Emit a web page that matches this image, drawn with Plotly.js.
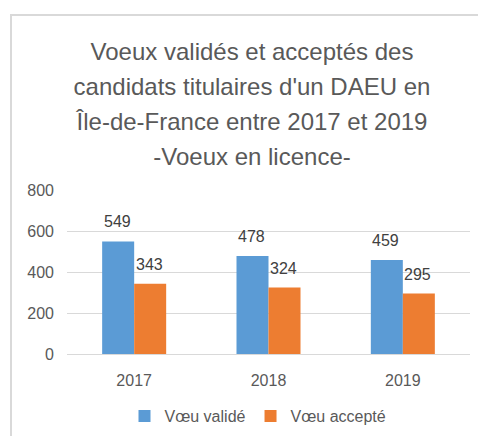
<!DOCTYPE html>
<html>
<head>
<meta charset="utf-8">
<script src="https://cdn.plot.ly/plotly-3.0.1.min.js"></script>
<style>
html,body{margin:0;padding:0;background:#fff;}
#chart{width:478px;height:436px;}
</style>
</head>
<body>
<div id="chart"></div>
<script>
const categories = ["2017", "2018", "2019"];
const voeuValide = [549, 478, 459];
const voeuAccepte = [343, 324, 295];
const seriesNames = ["Vœu validé", "Vœu accepté"];
const titleLines = [
  "Voeux validés et acceptés des",
  "candidats titulaires d'un DAEU en",
  "Île-de-France entre 2017 et 2019",
  "-Voeux en licence-"
];
const yTicks = [0, 200, 400, 600, 800];

const FONT = '"Liberation Sans", Arial, sans-serif';
const GRAY = '#595959';

const plotL = 67, plotR = 470, plotT = 190, plotB = 354, W = 478, H = 436;
const px2x = x => (x - plotL) / (plotR - plotL);
const px2y = y => (plotB - y) / (plotB - plotT);

const traces = [
  {
    type: 'bar', name: seriesNames[0], x: categories, y: voeuValide,
    marker: {color: '#5b9bd5'}, hoverinfo: 'none'
  },
  {
    type: 'bar', name: seriesNames[1], x: categories, y: voeuAccepte,
    marker: {color: '#ed7d31'}, hoverinfo: 'none'
  }
];

const labelFont = {family: FONT, size: 16, color: '#404040'};
const annotations = [];
categories.forEach((c, i) => {
  annotations.push({x: i, y: voeuValide[i], xref: 'x', yref: 'y', text: String(voeuValide[i]),
    showarrow: false, xanchor: 'center', yanchor: 'bottom', xshift: -17, yshift: 9, font: labelFont});
  annotations.push({x: i, y: voeuAccepte[i], xref: 'x', yref: 'y', text: String(voeuAccepte[i]),
    showarrow: false, xanchor: 'center', yanchor: 'bottom', xshift: 15, yshift: 9, font: labelFont});
});

const layout = {
  width: W, height: H,
  margin: {l: plotL, r: W - plotR, t: plotT, b: H - plotB, pad: 0, autoexpand: false},
  paper_bgcolor: '#ffffff', plot_bgcolor: '#ffffff',
  font: {family: FONT, color: GRAY, size: 16},
  title: {
    text: titleLines.map(l => '<span style="font-size:24px">' + l + '</span>').join('<br>'),
    font: {family: FONT, size: 27, color: GRAY},
    x: 252 / W, xanchor: 'center', xref: 'container',
    y: 1 - 60 / H, yanchor: 'top', yref: 'container'
  },
  barmode: 'group', bargap: 0.5235, bargroupgap: 0,
  showlegend: true,
  legend: {
    orientation: 'h', x: 258 / W, xanchor: 'center', xref: 'container',
    y: 1 - 399 / H, yanchor: 'top', yref: 'container',
    font: {family: FONT, size: 16, color: GRAY},
    itemclick: false, itemdoubleclick: false, traceorder: 'normal'
  },
  xaxis: {
    type: 'category', range: [-0.5, 2.5], autorange: false,
    showgrid: false, zeroline: false, showline: false,
    ticks: '', tickfont: {family: FONT, size: 16, color: GRAY},
    ticklabelstandoff: 15, fixedrange: true
  },
  yaxis: {
    range: [0, 800], autorange: false, tickvals: yTicks, ticktext: yTicks.map(String),
    showgrid: true, gridcolor: '#d9d9d9', gridwidth: 1,
    zeroline: true, zerolinecolor: '#d9d9d9', zerolinewidth: 1,
    showline: false, ticks: '',
    tickfont: {family: FONT, size: 16, color: GRAY},
    ticklabelstandoff: 12, fixedrange: true
  },
  annotations: annotations,
  shapes: [{
    type: 'path', xref: 'paper', yref: 'paper',
    path: 'M ' + px2x(11) + ' ' + px2y(H + 2) + ' L ' + px2x(11) + ' ' + px2y(15) + ' L ' + px2x(W + 2) + ' ' + px2y(15),
    line: {color: '#d9d9d9', width: 2}, layer: 'below'
  }]
};

Plotly.newPlot('chart', traces, layout, {staticPlot: true, displayModeBar: false});
</script>
</body>
</html>
